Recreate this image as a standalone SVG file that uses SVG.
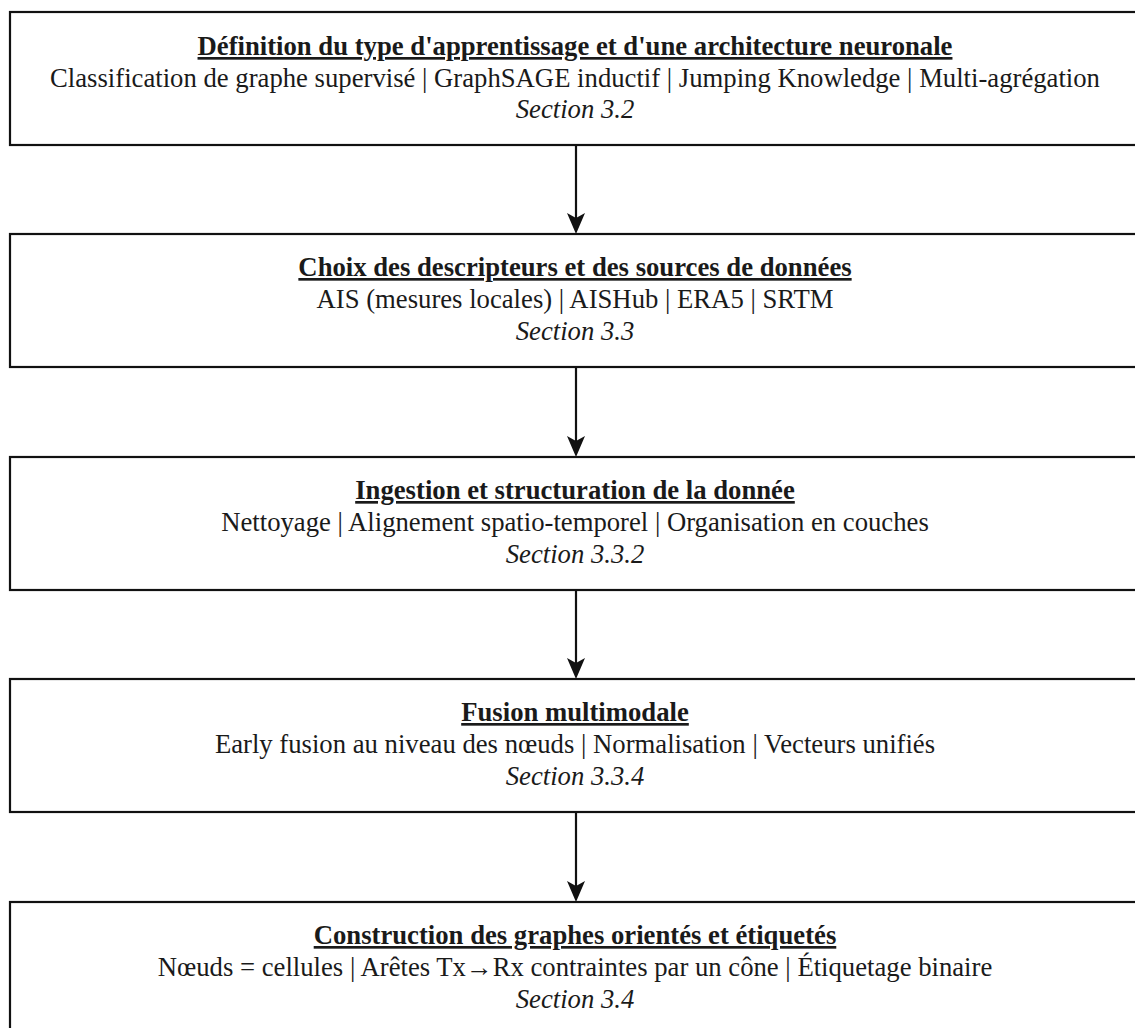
<svg xmlns="http://www.w3.org/2000/svg" width="1135" height="1028" viewBox="0 0 1135 1028">
<style>
.box{fill:#fff;stroke:#111;stroke-width:2.2}
.t{font-family:"Liberation Serif","Times New Roman",serif;font-size:26.7px;fill:#1a1a1a;text-anchor:middle}
.h{font-weight:bold;text-decoration:underline}
.s{font-style:italic}
.c{stroke:#111;stroke-width:2.2;fill:none}
.ah{fill:#111}
</style>
<rect width="1135" height="1028" fill="#fff"/>
<g id="connectors">
<line class="c" x1="576" y1="145" x2="576" y2="222"/>
<polygon class="ah" points="576,234 567,213 576,218 585,213"/>
<line class="c" x1="576" y1="367" x2="576" y2="445"/>
<polygon class="ah" points="576,457 567,436 576,441 585,436"/>
<line class="c" x1="576" y1="590" x2="576" y2="667"/>
<polygon class="ah" points="576,679 567,658 576,663 585,658"/>
<line class="c" x1="576" y1="812" x2="576" y2="890"/>
<polygon class="ah" points="576,902 567,881 576,886 585,881"/>
</g>
<g id="n1">
<rect class="box" x="10" y="12" width="1140" height="133"/>
<text class="t h" x="575" y="55">Définition du type d'apprentissage et d'une architecture neuronale</text>
<text class="t" x="575" y="87">Classification de graphe supervisé | GraphSAGE inductif | Jumping Knowledge | Multi-agrégation</text>
<text class="t s" x="575" y="118">Section 3.2</text>
</g>
<g id="n2">
<rect class="box" x="10" y="234" width="1140" height="133"/>
<text class="t h" x="575" y="276">Choix des descripteurs et des sources de données</text>
<text class="t" x="575" y="308">AIS (mesures locales) | AISHub | ERA5 | SRTM</text>
<text class="t s" x="575" y="340">Section 3.3</text>
</g>
<g id="n3">
<rect class="box" x="10" y="457" width="1140" height="133"/>
<text class="t h" x="575" y="499">Ingestion et structuration de la donnée</text>
<text class="t" x="575" y="531">Nettoyage | Alignement spatio-temporel | Organisation en couches</text>
<text class="t s" x="575" y="563">Section 3.3.2</text>
</g>
<g id="n4">
<rect class="box" x="10" y="679" width="1140" height="133"/>
<text class="t h" x="575" y="721">Fusion multimodale</text>
<text class="t" x="575" y="753">Early fusion au niveau des nœuds | Normalisation | Vecteurs unifiés</text>
<text class="t s" x="575" y="785">Section 3.3.4</text>
</g>
<g id="n5">
<rect class="box" x="10" y="902" width="1140" height="140"/>
<text class="t h" x="575" y="944">Construction des graphes orientés et étiquetés</text>
<text class="t" x="575" y="976">Nœuds = cellules | Arêtes Tx→Rx contraintes par un cône | Étiquetage binaire</text>
<text class="t s" x="575" y="1008">Section 3.4</text>
</g>
</svg>
